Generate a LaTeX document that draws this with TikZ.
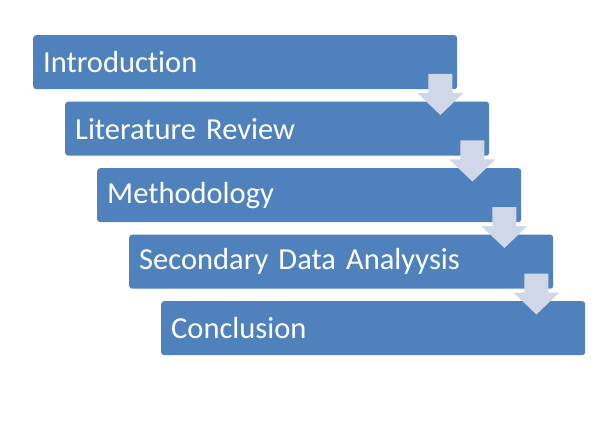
\documentclass[tikz,border=0pt]{standalone}
\usepackage{fontspec}
\setmainfont[Ligatures=NoCommon]{Carlito}
\usetikzlibrary{calc}
\definecolor{boxblue}{HTML}{4F81BD}
\definecolor{arrowfill}{RGB}{208,216,232}
\tikzset{
  stagebox/.style={draw=none, fill=boxblue, rounded corners=3pt, text=white,
    text width=404pt, align=left, inner xsep=10pt, inner ysep=0pt,
    minimum height=54pt, anchor=north west,
    font=\fontsize{30.5}{36}\selectfont},
  downarrow/.style={fill=arrowfill}
}
\begin{document}
\begin{tikzpicture}[x=1pt,y=1pt]
\useasboundingbox (0,0) rectangle (606,-436);
\node[stagebox] (b1) at (33,-35) {Introduction};
\node[stagebox] (b2) at (65,-101.5) {Literature Review};
\node[stagebox] (b3) at (97,-168) {Methodology};
\node[stagebox] (b4) at (129,-234.5) {Secondary Data Analyysis};
\node[stagebox] (b5) at (161,-301) {Conclusion};
\foreach \i in {1,2,3,4}{
  \fill[downarrow] ($(b\i.north east)+(-29,-39)$) -- ++(24,0) -- ++(0,-19) -- ++(11,0)
    -- ++(-23,-22) -- ++(-23,22) -- ++(11,0) -- cycle;
}
\end{tikzpicture}
\end{document}
